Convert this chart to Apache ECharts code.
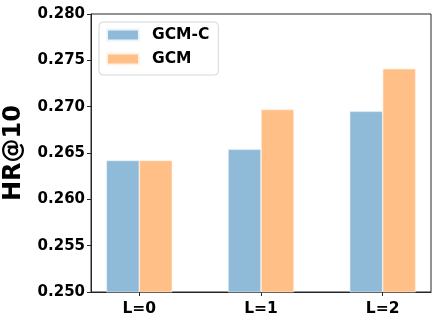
<!DOCTYPE html>
<html>
<head>
<meta charset="utf-8">
<script src="https://cdn.jsdelivr.net/npm/echarts@6/dist/echarts.min.js"></script>
<style>
  html, body { margin: 0; padding: 0; background: #fff; }
  #chart { width: 442px; height: 323px; }
</style>
</head>
<body>
<div id="chart"></div>
<script>
// HR@10 for each number of layers L
const categories = ['L=0', 'L=1', 'L=2'];
const seriesNames = ['GCM-C', 'GCM'];
const gcmC = [0.2642, 0.2654, 0.2695];
const gcm = [0.2642, 0.2697, 0.2741];
const yTicks = [0.250, 0.255, 0.260, 0.265, 0.270, 0.275, 0.280];

const FONT = 'DejaVu Sans';
const positions = categories.map((_, i) => i);

const chart = echarts.init(document.getElementById('chart'), null, { renderer: 'canvas' });
chart.setOption({
  animation: false,
  backgroundColor: '#fff',
  grid: { left: 91, right: 11, top: 14, bottom: 31, containLabel: false,
          outerBoundsMode: 'none',
          show: true, borderColor: '#262626', borderWidth: 1 },
  legend: {
    orient: 'vertical',
    left: 99, top: 22,
    data: seriesNames,
    icon: 'rect',
    itemWidth: 32, itemHeight: 11,
    itemGap: 8,
    padding: [5, 9, 8, 7],
    backgroundColor: '#fff',
    borderColor: '#d6d6d6',
    borderWidth: 1,
    borderRadius: 4,
    textStyle: { fontFamily: FONT, fontWeight: 'bold', fontSize: 15.5, color: '#000',
                 lineHeight: 15, padding: [0, 0, 0, 8] }
  },
  xAxis: {
    type: 'value',
    min: -0.397, max: 2.397,
    splitLine: { show: false },
    axisLine: { show: true, onZero: false, lineStyle: { color: '#262626', width: 1 } },
    axisTick: { show: true, customValues: positions, length: 4, lineStyle: { color: '#262626' } },
    axisLabel: {
      customValues: positions,
      formatter: v => categories[Math.round(v)],
      fontFamily: FONT, fontWeight: 'bold', fontSize: 15.5, color: '#000', margin: 9
    }
  },
  yAxis: {
    type: 'value',
    min: yTicks[0], max: yTicks[yTicks.length - 1], interval: 0.005,
    name: 'HR@10',
    nameLocation: 'middle',
    nameGap: 65,
    nameTextStyle: { fontFamily: FONT, fontWeight: 'bold', fontSize: 24, color: '#000' },
    splitLine: { show: false },
    axisLine: { show: true, onZero: false, lineStyle: { color: '#262626', width: 1 } },
    axisTick: { show: true, length: 4, lineStyle: { color: '#262626' } },
    axisLabel: {
      formatter: v => v.toFixed(3),
      fontFamily: FONT, fontWeight: 'bold', fontSize: 15, color: '#000', margin: 6
    }
  },
  series: [
    {
      name: seriesNames[0], type: 'bar',
      data: positions.map((x, i) => [x, gcmC[i]]),
      barWidth: 33, barGap: '0%',
      itemStyle: { color: '#8fbbd9', borderColor: '#eef4f9', borderWidth: 0.6 }
    },
    {
      name: seriesNames[1], type: 'bar',
      data: positions.map((x, i) => [x, gcm[i]]),
      barWidth: 33, barGap: '0%',
      itemStyle: { color: '#ffbf86', borderColor: '#fff3e8', borderWidth: 0.6 }
    }
  ]
});
</script>
</body>
</html>
